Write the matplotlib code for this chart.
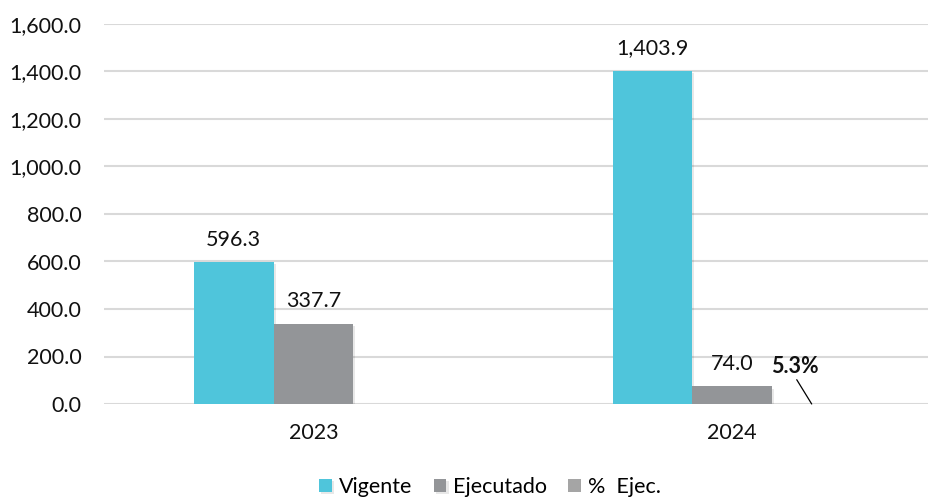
import matplotlib
matplotlib.use("Agg")
import matplotlib.pyplot as plt
import matplotlib.patheffects as pe
import numpy as np

plt.rcParams['font.family'] = ['Lato', 'DejaVu Sans']

categories = ["2023", "2024"]
vigente = [596.3, 1403.9]
ejecutado = [337.7, 74.0]
pct_ejec = [56.6, 5.3]   # percent
series_names = ["Vigente", "Ejecutado", "%  Ejec."]
colors = ["#4FC5DB", "#939598", "#A5A5A5"]
yticks = [0, 200, 400, 600, 800, 1000, 1200, 1400, 1600]

TXT = "#111111"
FS = 15.5

fig = plt.figure(figsize=(9.29, 4.98), dpi=100)
W, H = 929, 498
x0, x1 = 104, 941.5
ytop, ybot = 24, 404
ax = fig.add_axes([x0 / W, 1 - ybot / H, (x1 - x0) / W, (ybot - ytop) / H])

x = np.arange(len(categories))
bw = 0.19
shadow = [pe.SimplePatchShadow(offset=(1.5, -1.5), shadow_rgbFace='#000000', alpha=0.09), pe.Normal()]
b1 = ax.bar(x - bw, vigente, bw, color=colors[0], label=series_names[0], zorder=3, path_effects=shadow)
b2 = ax.bar(x, ejecutado, bw, color=colors[1], label=series_names[1], zorder=3, path_effects=shadow)
pct_vals = [p / 100 for p in pct_ejec]
b3 = ax.bar(x + bw, pct_vals, bw, color=colors[2], label=series_names[2], zorder=3)

for rect, v in zip(b1, vigente):
    ax.annotate(f"{v:,.1f}", (rect.get_x() + rect.get_width() / 2, v), xytext=(0, 9),
                textcoords="offset points", ha="center", va="bottom", fontsize=FS, color=TXT)
for rect, v in zip(b2, ejecutado):
    ax.annotate(f"{v:,.1f}", (rect.get_x() + rect.get_width() / 2, v), xytext=(0, 9),
                textcoords="offset points", ha="center", va="bottom", fontsize=FS, color=TXT)
# percent label only on 2024 with leader line
r = b3[1]
ax.annotate(f"{pct_ejec[1]:.1f}%", (r.get_x() + r.get_width() / 2, pct_vals[1]), xytext=(-12, 19.5),
            textcoords="offset points", ha="center", va="bottom", fontsize=FS, fontweight="bold",
            color=TXT,
            arrowprops=dict(arrowstyle="-", color="black", lw=0.9, shrinkA=0, shrinkB=0,
                            relpos=(0.5, 0.0)))

ax.set_ylim(0, 1600)
ax.set_xlim(-0.5, 1.5)
ax.set_yticks(yticks)
ax.set_yticklabels([f"{t:,.1f}" for t in yticks], fontsize=FS, color=TXT)
ax.set_xticks(x)
ax.set_xticklabels(categories, fontsize=FS, color=TXT)
ax.tick_params(axis='y', length=0, pad=16)
ax.tick_params(axis='x', length=0, pad=14)
ax.grid(axis='y', color="#D9D9D9", lw=1.5, zorder=0)
ax.set_axisbelow(True)
for s in ax.spines.values():
    s.set_visible(False)

fig.legend(handles=[b1, b2, b3], labels=series_names, loc="center", bbox_to_anchor=(490 / W, 1 - 487 / H),
           ncol=3, frameon=False, fontsize=FS, handlelength=0.6, handleheight=0.6,
           handletextpad=0.3, columnspacing=1.0, borderaxespad=0)

fig.savefig("out.png", dpi=100)
